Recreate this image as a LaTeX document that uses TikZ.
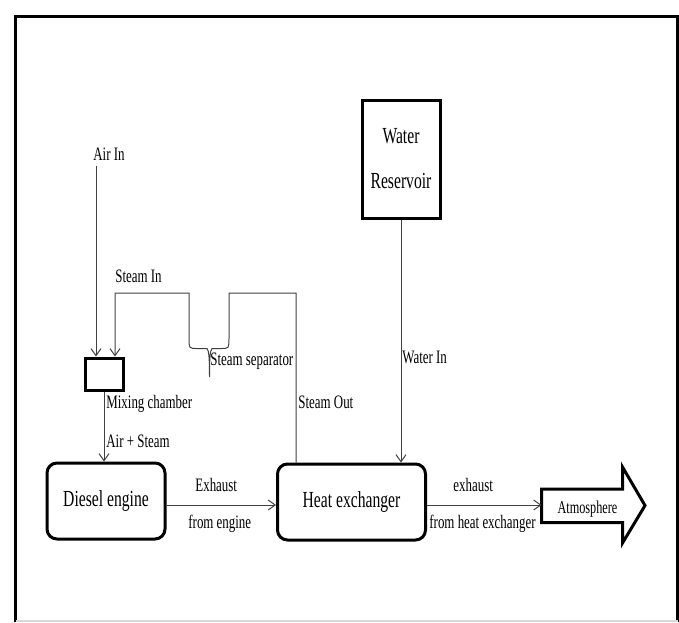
\documentclass[tikz,border=0pt]{standalone}
\usepackage{fontspec}
\setmainfont{Liberation Serif}[FakeStretch=0.68]
\usetikzlibrary{arrows.meta}

\begin{document}
\begin{tikzpicture}[x=0.5pt, y=-0.5pt,
    >={Straight Barb[length=3.5pt,width=5pt]},
    pipe/.style={draw=black!75, line width=0.5pt},
    flow/.style={pipe, ->},
    unit/.style={draw, line width=1.5pt, inner sep=0pt,
                 font=\fontsize{11.5}{13}\selectfont},
    tag/.style={inner sep=0pt, anchor=base west,
                font=\fontsize{9.5}{11}\selectfont}]

  \useasboundingbox (0,0) rectangle (679,622);

  %--- Outer frame
  \draw[line width=1.5pt] (15.5,622) -- (15.5,16) -- (677.5,16) -- (677.5,622);
  \draw[black!15, line width=0.75pt] (15.5,621) -- (677.5,621);

  %--- Units
  \node[unit, rounded corners=5pt, minimum width=59pt, minimum height=38pt]
    (engine) at (106,501) {Diesel engine};
  \node[unit, rounded corners=5pt, minimum width=74pt, minimum height=38pt]
    (hex) at (351.5,502) {Heat exchanger};
  \node[unit, minimum width=39pt, minimum height=59pt, align=center,
        font=\fontsize{11.5}{22.5}\selectfont]
    (reservoir) at (401,159) {Water\\Reservoir};
  \node[unit, minimum width=19pt, minimum height=16pt] (mixer) at (104,374) {};

  %--- Atmosphere outlet arrow
  \draw[line width=1.5pt] (541.5,489) -- (622.5,489) -- (622.5,467) -- (645,505.5)
    -- (622.5,543) -- (622.5,522.5) -- (541.5,522.5) -- cycle;
  \coordinate (atmotail) at (541.5,505);
  \node[tag, anchor=base, font=\fontsize{9}{11}\selectfont]
    (atmo) at (587.5,513) {Atmosphere};

  %--- Air and steam into the mixing chamber
  \coordinate (airtop) at (96,166);
  \draw[flow] (airtop) -- ([xshift=-4pt]mixer.north);
  \node[tag] (airlbl) at (93,160) {Air In};

  \draw[flow] ([xshift=10pt]hex.north west) |- (229,293) -- (229,338)
    .. controls (229,348.5) .. (221,348.5) -- (212,348.5)
    .. controls (210,350) and (209.5,360) .. (209.5,377)
    .. controls (209.5,360) and (209,350) .. (207,348.5) -- (197,348.5)
    .. controls (189,348.5) .. (189,338) -- (189,293) -| ([xshift=5.5pt]mixer.north);
  \node[tag] (steaminlbl) at (115,282) {Steam In};
  \node[tag] (seplbl) at (210,365) {Steam separator};
  \node[tag] (steamoutlbl) at (298,408) {Steam Out};

  %--- Mixture into the engine
  \draw[flow] (mixer.south) -- (mixer.south |- engine.north);
  \node[tag] (mixlbl) at (106,408) {Mixing chamber};
  \node[tag] (airsteamlbl) at (106,447) {Air + Steam};

  %--- Water feed
  \draw[flow] (reservoir.south) -- (reservoir.south |- hex.north);
  \node[tag] (waterlbl) at (402,363) {Water In};

  %--- Exhaust lines
  \draw[flow] ([yshift=-2pt]engine.east) -- ([yshift=-2pt]engine.east -| hex.west);
  \node[tag] (exhlbl) at (195,491) {Exhaust};
  \node[tag] (fromenglbl) at (188,528) {from engine};

  \draw[flow] ([yshift=-1.5pt]hex.east) -- ([yshift=-1.5pt]hex.east -| atmotail);
  \node[tag] (exh2lbl) at (453,491) {exhaust};
  \node[tag] (fromhexlbl) at (429,528) {from heat exchanger};

\end{tikzpicture}
\end{document}
